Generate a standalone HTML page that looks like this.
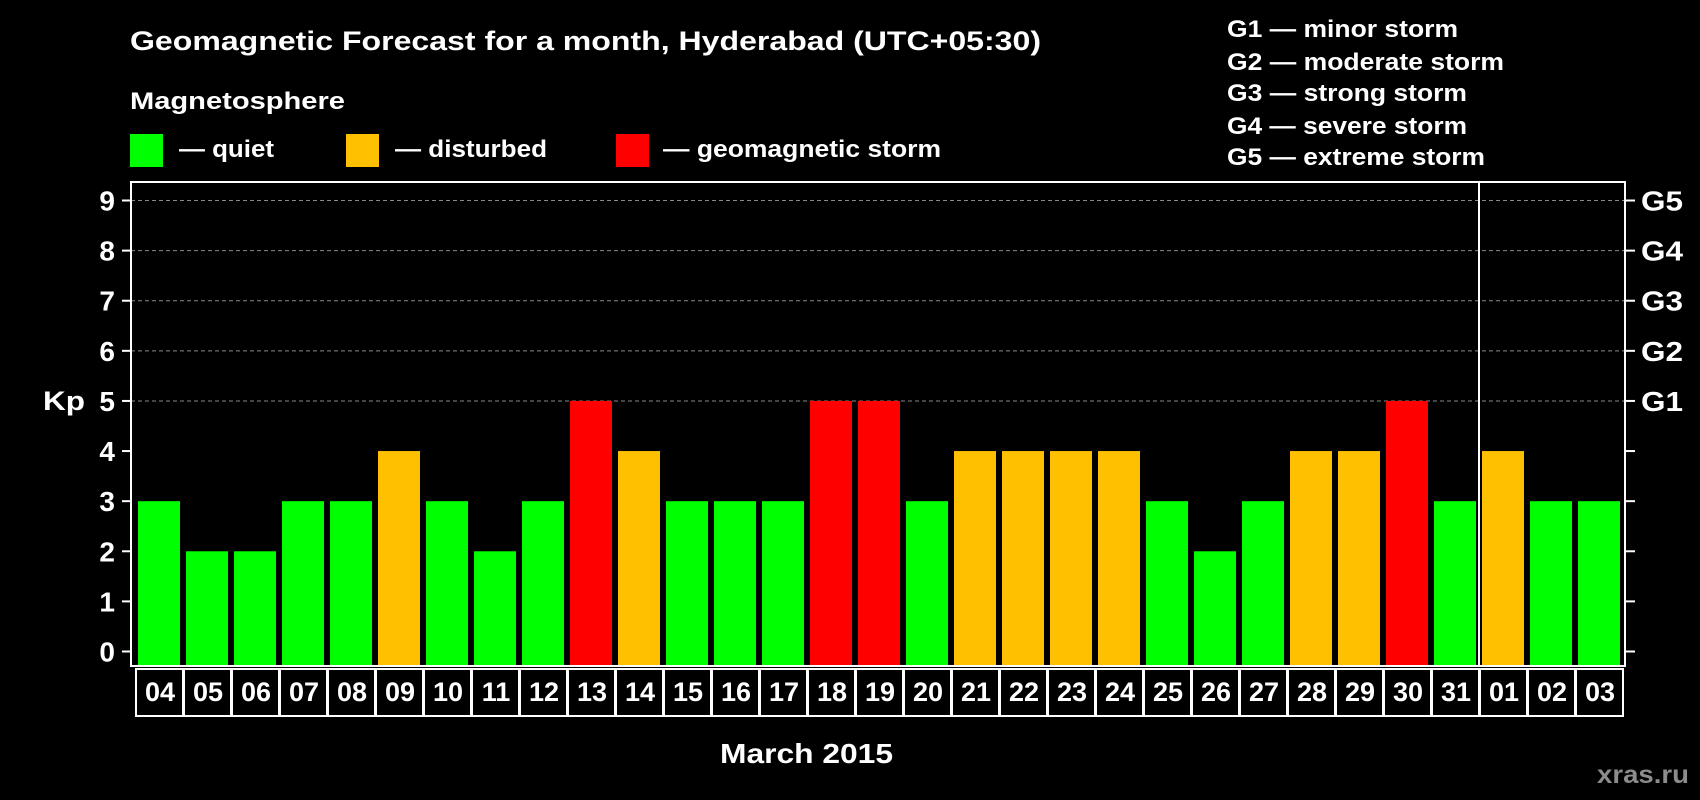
<!DOCTYPE html>
<html><head><meta charset="utf-8"><style>
html,body{margin:0;padding:0;background:#000;}
svg{display:block;font-family:"Liberation Sans",Arial,sans-serif;font-weight:bold;}
</style></head><body>
<svg width="1700" height="800" viewBox="0 0 1700 800" xmlns="http://www.w3.org/2000/svg" font-family="Liberation Sans, Arial, sans-serif" font-weight="bold">
<rect x="0" y="0" width="1700" height="800" fill="#000"/>
<text x="130" y="50" fill="#fff" font-size="27" textLength="911" lengthAdjust="spacingAndGlyphs">Geomagnetic Forecast for a month, Hyderabad (UTC+05:30)</text>
<text x="130" y="109" fill="#fff" font-size="24" textLength="215" lengthAdjust="spacingAndGlyphs">Magnetosphere</text>
<g>
<rect x="130" y="134" width="33" height="33" fill="#00ff00"/>
<text x="179" y="157" fill="#fff" font-size="24" textLength="95" lengthAdjust="spacingAndGlyphs">— quiet</text></g>
<g>
<rect x="346" y="134" width="33" height="33" fill="#ffc000"/>
<text x="395" y="157" fill="#fff" font-size="24" textLength="152" lengthAdjust="spacingAndGlyphs">— disturbed</text></g>
<g>
<rect x="616" y="134" width="33" height="33" fill="#ff0000"/>
<text x="663" y="157" fill="#fff" font-size="24" textLength="278" lengthAdjust="spacingAndGlyphs">— geomagnetic storm</text></g>
<g fill="#fff" font-size="24">
<text x="1227" y="37" textLength="231" lengthAdjust="spacingAndGlyphs">G1 — minor storm</text>
<text x="1227" y="70" textLength="277" lengthAdjust="spacingAndGlyphs">G2 — moderate storm</text>
<text x="1227" y="101" textLength="240" lengthAdjust="spacingAndGlyphs">G3 — strong storm</text>
<text x="1227" y="134" textLength="240" lengthAdjust="spacingAndGlyphs">G4 — severe storm</text>
<text x="1227" y="165" textLength="258" lengthAdjust="spacingAndGlyphs">G5 — extreme storm</text>
</g>
<text x="43" y="410" fill="#fff" font-size="27" textLength="42" lengthAdjust="spacingAndGlyphs">Kp</text>
<text x="720" y="763" fill="#fff" font-size="28" textLength="173" lengthAdjust="spacingAndGlyphs">March 2015</text>
<text x="1597" y="783" fill="#8c8c8c" font-size="25" textLength="92" lengthAdjust="spacingAndGlyphs">xras.ru</text>
<g id="grid"></g>
<g id="bars"></g>
<g id="axes"></g>
</svg>
<script>
const days = ["04","05","06","07","08","09","10","11","12","13","14","15","16","17","18","19","20","21","22","23","24","25","26","27","28","29","30","31","01","02","03"];
const kpValues = [3,2,2,3,3,4,3,2,3,5,4,3,3,3,5,5,3,4,4,4,4,3,2,3,4,4,5,3,4,3,3];
const yTicks = ["0","1","2","3","4","5","6","7","8","9"];
const gLabels = ["G1","G2","G3","G4","G5"];
const monthBreakIndex = 28;

const NS = "http://www.w3.org/2000/svg";
const plotL = 131, plotR = 1625, plotT = 182, plotB = 666;
const y0 = 651.5, unit = (651.5 - 200.5) / 9;
const firstX = 135, pitch = 48;
function yScale(v){ return y0 - v * unit; }
function xScale(i){ return firstX + i * pitch; }
function color(v){ return v >= 5 ? "#ff0000" : (v >= 4 ? "#ffc000" : "#00ff00"); }
function mk(tag, attrs, parent){ const e = document.createElementNS(NS, tag); for (const k in attrs) e.setAttribute(k, attrs[k]); parent.appendChild(e); return e; }

const grid = document.getElementById("grid");
const bars = document.getElementById("bars");
const axes = document.getElementById("axes");

for (let k = 5; k <= 9; k++) {
  const l = mk("line", {x1: plotL, x2: plotR, y1: yScale(k), y2: yScale(k), stroke: "#888", "stroke-width": 1, "stroke-dasharray": "4,3"}, grid);
  
  
}

kpValues.forEach((v, i) => {
  const r = mk("rect", {x: xScale(i) + 3, y: yScale(v), width: 42, height: plotB - 1 - yScale(v), fill: color(v)}, bars);
  
  
});

const frame = mk("rect", {x: plotL, y: plotT, width: plotR - plotL, height: plotB - plotT, fill: "none", stroke: "#fff", "stroke-width": 2}, axes);


const sep = mk("line", {x1: xScale(monthBreakIndex), x2: xScale(monthBreakIndex), y1: plotT, y2: plotB, stroke: "#fff", "stroke-width": 2}, axes);



yTicks.forEach((t, k) => {
  const y = yScale(k);
  const tl = mk("line", {x1: 122, x2: plotL, y1: y, y2: y, stroke: "#fff", "stroke-width": 2}, axes);
  
  
  const tr = mk("line", {x1: plotR, x2: 1635, y1: y, y2: y, stroke: "#fff", "stroke-width": 2}, axes);
  
  
  const tx = mk("text", {x: 115, y: y + 10, fill: "#fff", "font-size": 28, "text-anchor": "end"}, axes);
  tx.textContent = t;
  
  
});
gLabels.forEach((g, j) => {
  const y = yScale(5 + j);
  const tx = mk("text", {x: 1641, y: y + 10, fill: "#fff", "font-size": 28, textLength: 42, lengthAdjust: "spacingAndGlyphs"}, axes);
  tx.textContent = g;
  
  
});

days.forEach((d, i) => {
  const x = xScale(i);
  const c = mk("rect", {x: x + 1, y: 669, width: pitch - 1, height: 47, fill: "none", stroke: "#fff", "stroke-width": 2}, axes);
  
  
  const tx = mk("text", {x: x + pitch / 2 + 1, y: 701, fill: "#fff", "font-size": 27, "text-anchor": "middle"}, axes);
  tx.textContent = d;
  
  
});
</script>
</body></html>
